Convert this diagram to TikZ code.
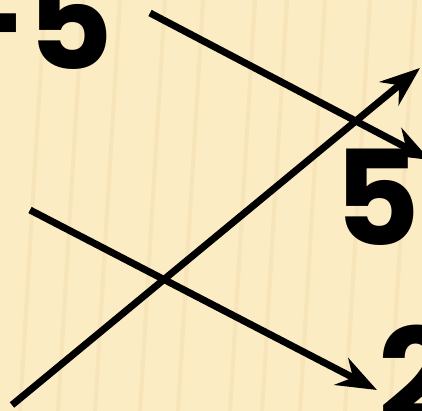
\documentclass[tikz,border=0pt]{standalone}
\usepackage{fontspec}
\newfontfamily\digitfont{Poppins}[UprightFont=* Bold]
\usetikzlibrary{arrows.meta}

\definecolor{paper}{RGB}{252,236,196}
\definecolor{stripe}{RGB}{243,222,172}

\begin{document}
\begin{tikzpicture}[x=1pt,y=-1pt,>={Stealth[length=40pt,width=30pt,inset=13pt]},
  digit/.style={font=\digitfont\fontsize{132}{132}\selectfont,inner sep=0pt},
  jump/.style={->,line width=7pt}]
\useasboundingbox (0,0) rectangle (422,411);
\fill[paper] (0,0) rectangle (422,411);
% faint stripes
\foreach \s in {20,58,95,140,178,230,262,300,345,390}
  \draw[stripe,line width=4pt,opacity=0.45] (\s,411) -- (\s+25,0);
\node[digit,anchor=base east] (minusfive) at (114,70) {-5};
\node[digit,anchor=base] (five) at (377,245) {5};
\node[digit,anchor=base west] (two) at (378,423) {2};
\coordinate (a1) at (150,13);
\coordinate (b1) at (430,160);
\coordinate (a2) at (12,405);
\coordinate (b2) at (420,68);
\coordinate (a3) at (30,210);
\coordinate (b3) at (377,390);
\draw[jump] (a1) -- (b1);
\draw[jump] (a2) -- (b2);
\draw[jump] (a3) -- (b3);
\end{tikzpicture}
\end{document}
